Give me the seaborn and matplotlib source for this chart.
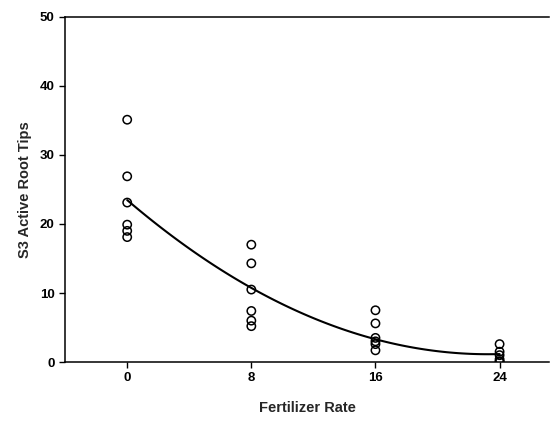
import numpy as np
import pandas as pd
import matplotlib
matplotlib.use("Agg")
import matplotlib.pyplot as plt
import seaborn as sns

sns.set_style("ticks")
plt.rcParams['font.family'] = ['Liberation Sans', 'DejaVu Sans']

rate_0 = [35.1, 26.9, 23.1, 19.9, 19.0, 18.1]
rate_8 = [17.0, 14.3, 10.5, 7.4, 6.0, 5.2]
rate_16 = [7.5, 5.6, 3.5, 3.0, 2.6, 1.7]
rate_24 = [2.6, 1.5, 1.0, 0.4, 0.1, 0.0]
rates = [0, 8, 16, 24]
x_ticks = [0, 8, 16, 24]
y_ticks = [0, 10, 20, 30, 40, 50]

rows = []
for r, vals in zip(rates, [rate_0, rate_8, rate_16, rate_24]):
    for v in vals:
        rows.append((r, v))
df = pd.DataFrame(rows, columns=["rate", "tips"])

fig = plt.figure(figsize=(5.52, 4.21), dpi=100)
ax = fig.add_axes([0.118, 0.140, 0.877, 0.820])

sns.regplot(data=df, x="rate", y="tips", order=2, ci=None, scatter=False,
            truncate=True, ax=ax, line_kws=dict(color="black", lw=1.5))
sns.scatterplot(data=df, x="rate", y="tips", ax=ax, marker="o",
                facecolor="none", edgecolor="black", linewidth=1.1, s=36,
                zorder=3)

ax.set_xlim(-4, 27.2)
ax.set_ylim(0, 50)
ax.set_xticks(x_ticks)
ax.set_yticks(y_ticks)
ax.set_xlabel("Fertilizer Rate", fontsize=10.5, fontweight="bold", labelpad=12)
ax.set_ylabel("S3 Active Root Tips", fontsize=10.5, fontweight="bold", labelpad=6)
ax.tick_params(labelsize=9.5, length=4, width=1, direction="out", colors="black")
for lab in ax.get_xticklabels() + ax.get_yticklabels():
    lab.set_fontweight("bold")
for s in ["left", "bottom", "top"]:
    ax.spines[s].set_color("black")
    ax.spines[s].set_linewidth(1.1)
ax.spines["right"].set_visible(False)
ax.spines["top"].set_visible(True)

fig.savefig("out.png", dpi=100, facecolor="white")
